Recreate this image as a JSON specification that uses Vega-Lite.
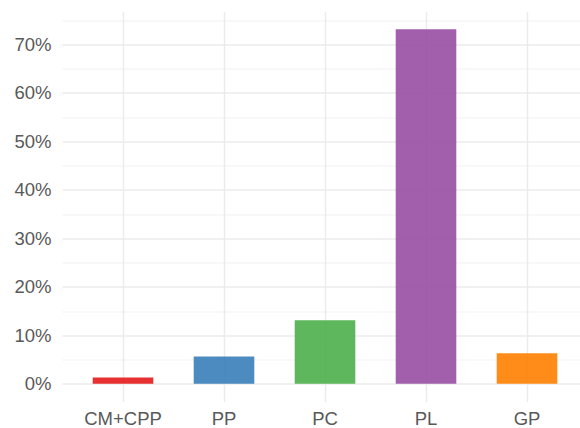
{
  "$schema": "https://vega.github.io/schema/vega-lite/v6.json",
  "width": 518,
  "height": 390,
  "autosize": {"type": "none"},
  "padding": {"left": 62, "top": 11.5, "right": 0, "bottom": 26.5},
  "config": {
    "view": {"stroke": null},
    "font": "Liberation Sans",
    "axis": {"labelFont": "Liberation Sans", "labelColor": "#595959", "labelFontSize": 18.5, "domain": false, "ticks": false, "tickSize": 0, "gridColor": "#ebebeb"}
  },
  "data": {
    "values": [
      {"party": "CM+CPP", "share": 0.013},
      {"party": "PP", "share": 0.056},
      {"party": "PC", "share": 0.131},
      {"party": "PL", "share": 0.731},
      {"party": "GP", "share": 0.063}
    ]
  },
  "layer": [
    {
      "mark": {"type": "bar", "opacity": 0},
      "encoding": {
        "x": {"field": "party", "type": "nominal", "sort": null,
              "scale": {"paddingInner": 0.4, "paddingOuter": 0.2644, "align": 0.575},
              "axis": {"title": null, "labelAngle": 0, "labelPadding": 8, "grid": true, "gridWidth": 1.4, "bandPosition": 0.5}},
        "y": {"field": "share", "type": "quantitative",
              "scale": {"domain": [-0.0366, 0.7676], "nice": false, "zero": false},
              "axis": {"orient": "left", "title": null, "labels": false, "grid": true, "gridWidth": 0.7,
                       "values": [0.05, 0.15, 0.25, 0.35, 0.45, 0.55, 0.65, 0.75]}},
        "y2": {"datum": 0}
      }
    },
    {
      "mark": {"type": "bar", "opacity": 0.9},
      "encoding": {
        "x": {"field": "party", "type": "nominal", "sort": null,
              "scale": {"paddingInner": 0.4, "paddingOuter": 0.2644, "align": 0.575},
              "axis": {"title": null, "labelAngle": 0, "labelPadding": 8, "grid": true, "gridWidth": 1.4, "bandPosition": 0.5}},
        "y": {"field": "share", "type": "quantitative",
              "scale": {"domain": [-0.0366, 0.7676], "nice": false, "zero": false},
              "axis": {"orient": "left", "title": null, "format": ".0%", "labelPadding": 11, "grid": true, "gridWidth": 1.4,
                       "values": [0, 0.1, 0.2, 0.3, 0.4, 0.5, 0.6, 0.7]}},
        "y2": {"datum": 0},
        "color": {"field": "party", "type": "nominal", "legend": null,
                  "scale": {"domain": ["CM+CPP", "PP", "PC", "PL", "GP"],
                            "range": ["#E41A1C", "#377EB8", "#4DAF4A", "#984EA3", "#FF7F00"]}}
      }
    }
  ],
  "resolve": {"axis": {"y": "independent"}}
}
